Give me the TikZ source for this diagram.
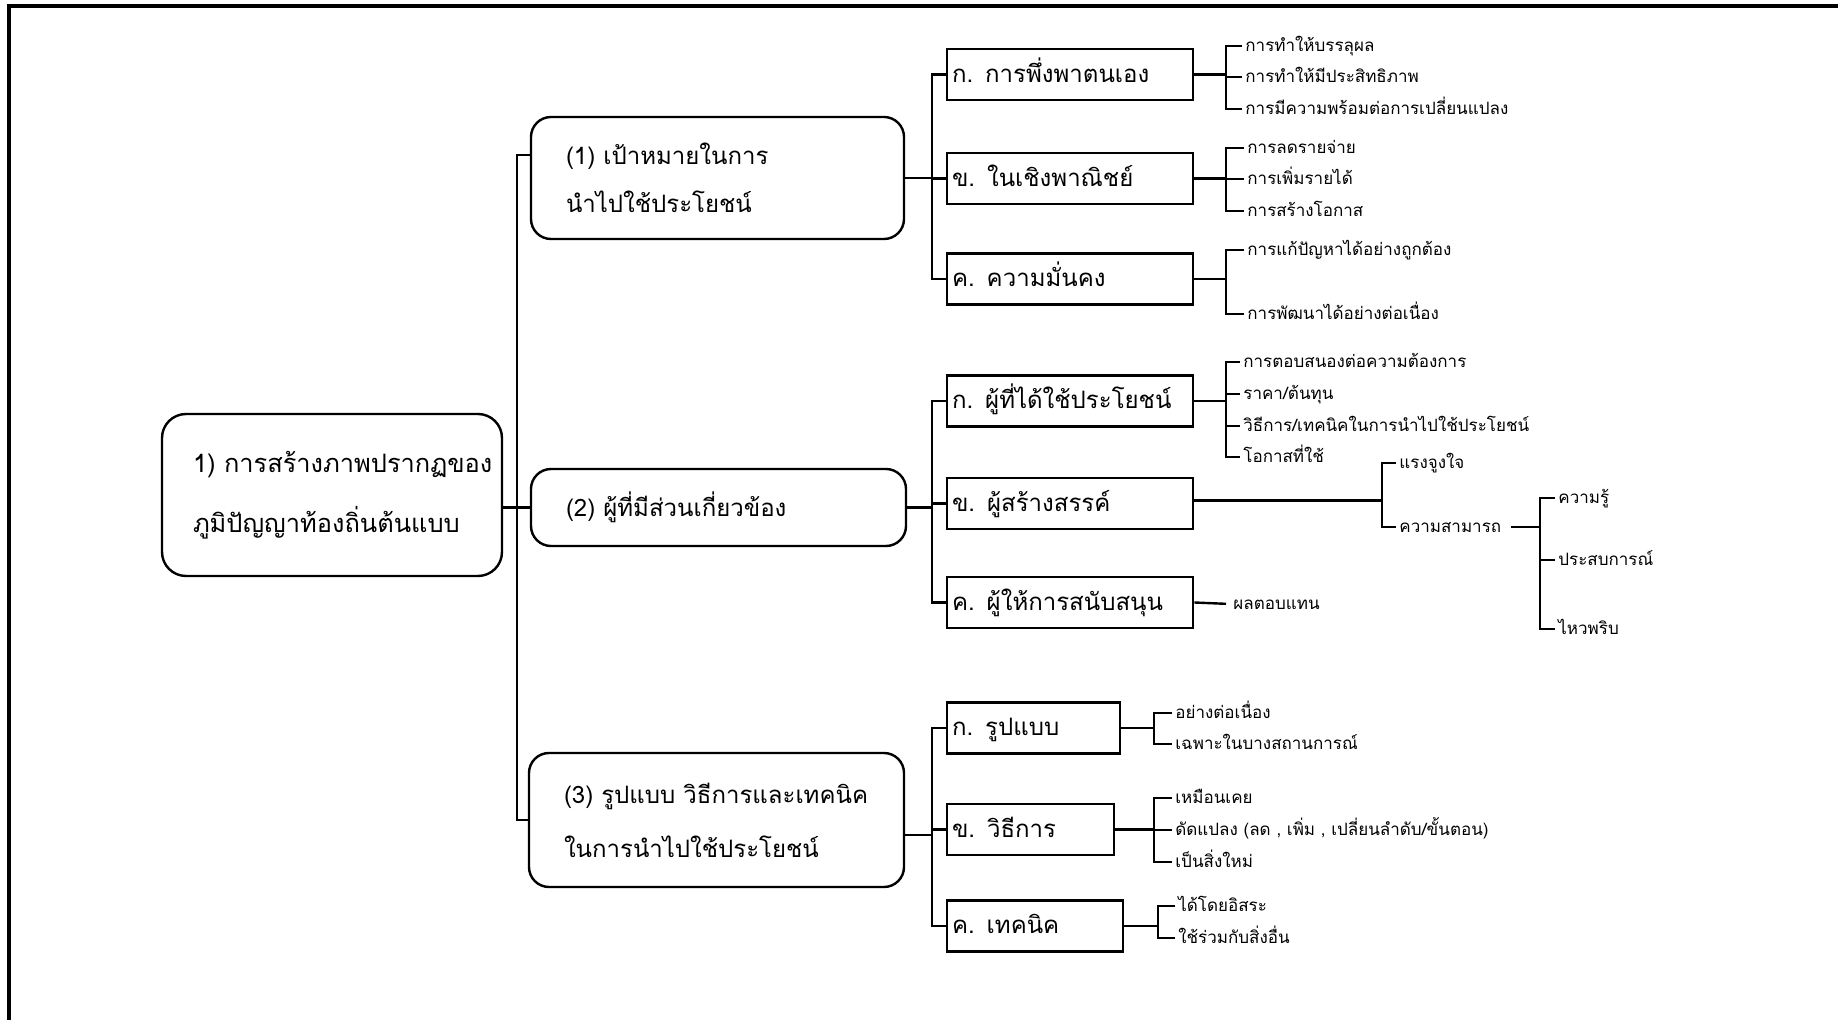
\documentclass[tikz,border=0pt]{standalone}
\usepackage{fontspec}
\setmainfont{Loma}[Script=Thai]
\begin{document}
\begin{tikzpicture}[x=0.5pt,y=-0.5pt,
    mainbox/.style={draw,line width=1.2pt,rounded corners=10pt,align=left},
    subbox/.style={draw,line width=1.3pt,align=left,inner xsep=2.5pt,minimum height=25.5pt,
        text height=2ex,text depth=0.5ex,font=\fontsize{12}{14}\selectfont},
    leaf/.style={anchor=west,inner xsep=1.5pt,inner ysep=0pt,text height=1.2ex,text depth=0.2ex,
        font=\fontsize{8.5}{10}\selectfont},
    link/.style={line width=1.2pt}]
    \useasboundingbox (0,0) rectangle (1838,1020);
    % frame
    \draw[line width=1.8pt] (9,1020) -- (9,6) -- (1838,6);

    % root and first level
    \node[mainbox,rounded corners=12pt,inner xsep=15.5pt,text width=139pt,minimum height=81pt,
        font=\fontsize{12.7}{30}\selectfont] (root) at (332,495)
        {1)~การสร้างภาพปรากฏของ\\ภูมิปัญญาท้องถิ่นต้นแบบ};
    \node[mainbox,inner xsep=17.5pt,text width=151.5pt,minimum height=61pt,
        font=\fontsize{12}{24}\selectfont] (g1) at (717.5,178)
        {(1)~เป้าหมายในการ\\นำไปใช้ประโยชน์};
    \node[mainbox,inner xsep=17.5pt,text width=152.5pt,minimum height=38.5pt,
        font=\fontsize{12}{24}\selectfont] (g2) at (718.5,507.5)
        {(2)~ผู้ที่มีส่วนเกี่ยวข้อง};
    \node[mainbox,inner xsep=17.5pt,text width=152.5pt,minimum height=67pt,
        font=\fontsize{12}{27}\selectfont] (g3) at (716.5,820)
        {(3)~รูปแบบ~วิธีการและเทคนิค\\ในการนำไปใช้ประโยชน์};

    \coordinate (t1) at (517,0);
    \draw[link] (root.east |- g2.west) -- (g2.west);
    \draw[link] ([yshift=11.5pt]g1.west) -- ([yshift=11.5pt]g1.west -| t1) -- (g3.west -| t1) -- (g3.west);

    % second level
    \coordinate (t2) at (932,0);
    \node[subbox,text width=118pt] (a1) at (1070,74.5) {ก. การพึ่งพาตนเอง};
    \node[subbox,text width=118pt] (a2) at (1070,178.5) {ข. ในเชิงพาณิชย์};
    \node[subbox,text width=118pt] (a3) at (1070,279) {ค. ความมั่นคง};
    \draw[link] (g1.east) -- (g1.east -| t2);
    \draw[link] (a1.west) -- (a1.west -| t2) -- (a3.west -| t2) -- (a3.west);
    \draw[link] (a2.west) -- (a2.west -| t2);

    \node[subbox,text width=118pt] (b1) at (1070,401) {ก. ผู้ที่ได้ใช้ประโยชน์};
    \node[subbox,text width=118pt] (b2) at (1070,503.5) {ข. ผู้สร้างสรรค์};
    \node[subbox,text width=118pt] (b3) at (1070,602.5) {ค. ผู้ให้การสนับสนุน};
    \draw[link] (g2.east) -- (g2.east -| t2);
    \draw[link] (b1.west) -- (b1.west -| t2) -- (b3.west -| t2) -- (b3.west);
    \draw[link] (b2.west) -- (b2.west -| t2);

    \node[subbox,text width=81.5pt] (c1) at (1033.5,728) {ก. รูปแบบ};
    \node[subbox,text width=78.5pt] (c2) at (1030.5,829.5) {ข. วิธีการ};
    \node[subbox,text width=83pt] (c3) at (1035,926) {ค. เทคนิค};
    \draw[link] ([yshift=-7.5pt]g3.east) -- ([yshift=-7.5pt]g3.east -| t2);
    \draw[link] (c1.west) -- (c1.west -| t2) -- (c3.west -| t2) -- (c3.west);
    \draw[link] (c2.west) -- (c2.west -| t2);

    % leaves of group A
    \coordinate (ka) at (1226,0);
    \node[leaf] (la1) at (1242,46) {การทำให้บรรลุผล};
    \node[leaf] (la2) at (1242,77) {การทำให้มีประสิทธิภาพ};
    \node[leaf] (la3) at (1242,109) {การมีความพร้อมต่อการเปลี่ยนแปลง};
    \draw[link] (a1.east) -- (a1.east -| ka);
    \draw[link] (la1.west) -- (la1.west -| ka) -- (la3.west -| ka) -- (la3.west);
    \draw[link] (la2.west) -- (la2.west -| ka);

    \node[leaf] (lb1) at (1244,148) {การลดรายจ่าย};
    \node[leaf] (lb2) at (1244,179) {การเพิ่มรายได้};
    \node[leaf] (lb3) at (1244,211) {การสร้างโอกาส};
    \draw[link] (a2.east) -- (a2.east -| ka);
    \draw[link] (lb1.west) -- (lb1.west -| ka) -- (lb3.west -| ka) -- (lb3.west);
    \draw[link] (lb2.west) -- (lb2.west -| ka);

    \node[leaf] (lc1) at (1244,250) {การแก้ปัญหาได้อย่างถูกต้อง};
    \node[leaf] (lc2) at (1244,314) {การพัฒนาได้อย่างต่อเนื่อง};
    \draw[link] (a3.east) -- (a3.east -| ka);
    \draw[link] (lc1.west) -- (lc1.west -| ka) -- (lc2.west -| ka) -- (lc2.west);

    % leaves of group B
    \node[leaf] (ld1) at (1240,362) {การตอบสนองต่อความต้องการ};
    \node[leaf] (ld2) at (1240,394) {ราคา/ต้นทุน};
    \node[leaf] (ld3) at (1240,426) {วิธีการ/เทคนิคในการนำไปใช้ประโยชน์};
    \node[leaf] (ld4) at (1240,457) {โอกาสที่ใช้};
    \draw[link] (b1.east) -- (b1.east -| ka);
    \draw[link] (ld1.west) -- (ld1.west -| ka) -- (ld4.west -| ka) -- (ld4.west);
    \draw[link] (ld2.west) -- (ld2.west -| ka);
    \draw[link] (ld3.west) -- (ld3.west -| ka);

    \coordinate (kb) at (1382,0);
    \node[leaf] (le1) at (1396,463) {แรงจูงใจ};
    \node[leaf] (le2) at (1396,527) {ความสามารถ};
    \draw[link] ([yshift=1.5pt]b2.east) -- ([yshift=1.5pt]b2.east -| kb);
    \draw[link] (le1.west) -- (le1.west -| kb) -- (le2.west -| kb) -- (le2.west);

    \coordinate (kc) at (1540,0);
    \node[leaf] (lf1) at (1555,498) {ความรู้};
    \node[leaf] (lf2) at (1555,560) {ประสบการณ์};
    \node[leaf] (lf3) at (1555,629) {ไหวพริบ};
    \draw[link,shorten <=3pt] (le2.east) -- (le2.east -| kc);
    \draw[link] (lf1.west) -- (lf1.west -| kc) -- (lf3.west -| kc) -- (lf3.west);
    \draw[link] (lf2.west) -- (lf2.west -| kc);

    \node[leaf] (lg1) at (1230,604) {ผลตอบแทน};
    \draw[link,shorten >=2pt] (b3.east) -- (lg1.west);

    % leaves of group C
    \coordinate (kd) at (1154,0);
    \node[leaf] (lh1) at (1172,713) {อย่างต่อเนื่อง};
    \node[leaf] (lh2) at (1172,744) {เฉพาะในบางสถานการณ์};
    \draw[link] (c1.east) -- (c1.east -| kd);
    \draw[link] (lh1.west) -- (lh1.west -| kd) -- (lh2.west -| kd) -- (lh2.west);

    \node[leaf] (li1) at (1172,798) {เหมือนเคย};
    \node[leaf] (li2) at (1172,830) {ดัดแปลง (ลด , เพิ่ม , เปลี่ยนลำดับ/ขั้นตอน)};
    \node[leaf] (li3) at (1172,862) {เป็นสิ่งใหม่};
    \draw[link] (c2.east) -- (c2.east -| kd);
    \draw[link] (li1.west) -- (li1.west -| kd) -- (li3.west -| kd) -- (li3.west);
    \draw[link] (li2.west) -- (li2.west -| kd);

    \coordinate (ke) at (1158,0);
    \node[leaf] (lj1) at (1175,906) {ได้โดยอิสระ};
    \node[leaf] (lj2) at (1175,938) {ใช้ร่วมกับสิ่งอื่น};
    \draw[link] (c3.east) -- (c3.east -| ke);
    \draw[link] (lj1.west) -- (lj1.west -| ke) -- (lj2.west -| ke) -- (lj2.west);
\end{tikzpicture}
\end{document}
